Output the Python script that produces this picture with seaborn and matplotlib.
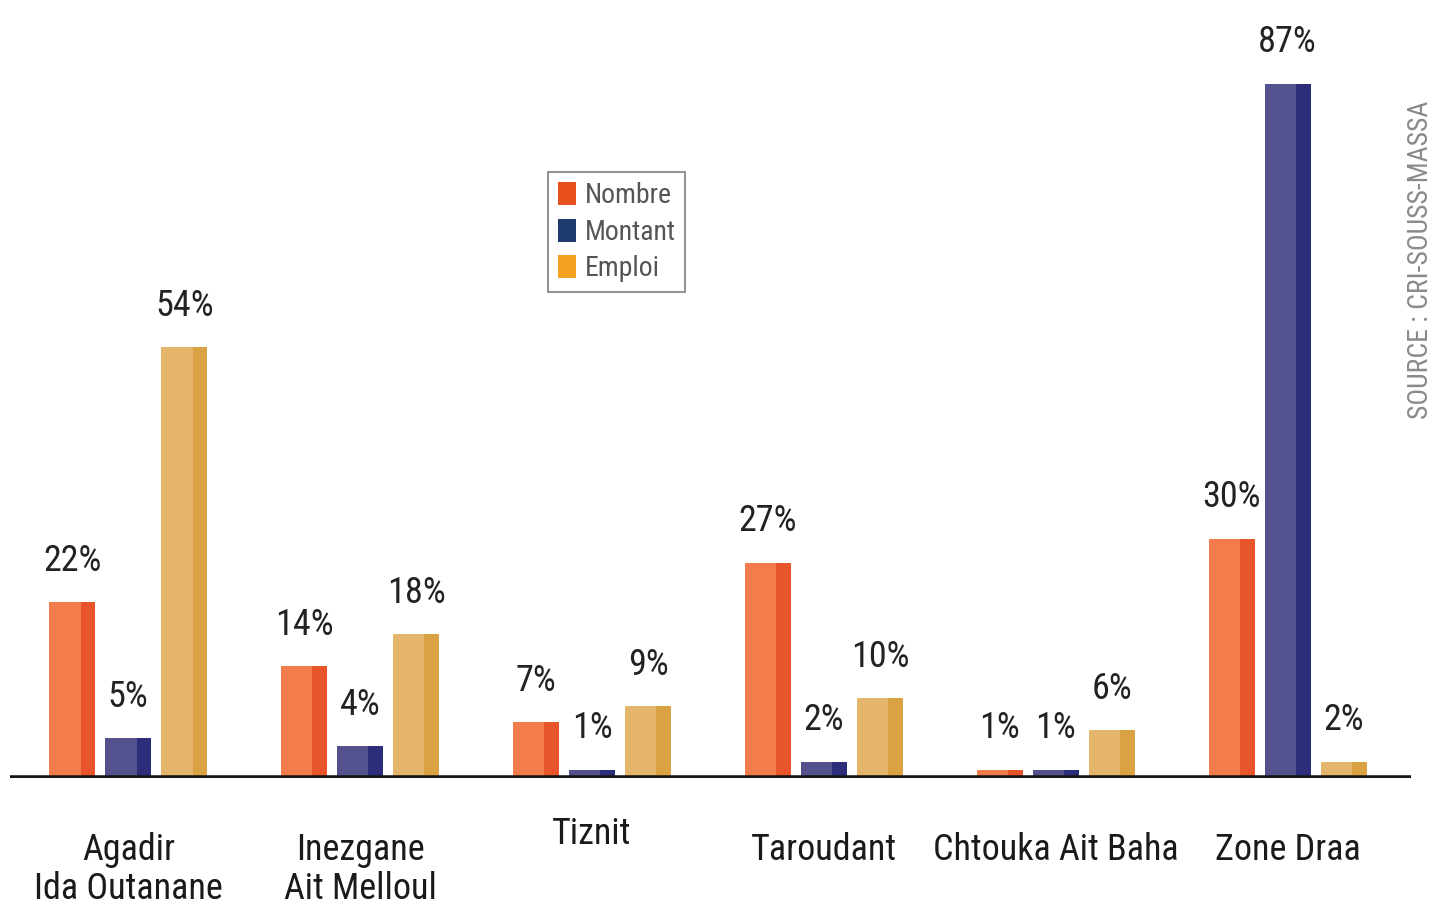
import pandas as pd
import seaborn as sns
import matplotlib.pyplot as plt
from matplotlib import font_manager as fm
from matplotlib.colors import to_hex
from matplotlib.patches import Patch, Rectangle

# data (percent)
regions = ["Agadir\nIda Outanane", "Inezgane\nAit Melloul", "Tiznit",
           "Taroudant", "Chtouka Ait Baha", "Zone Draa"]
series = ["Nombre", "Montant", "Emploi"]
nombre = [22, 14, 7, 27, 1, 30]
montant = [5, 4, 1, 2, 1, 87]
emploi = [54, 18, 9, 10, 6, 2]

front = {"Nombre": "#F27C4C", "Montant": "#53528F", "Emploi": "#E4B56A"}
side = {"Nombre": "#E8552A", "Montant": "#2C2E7C", "Emploi": "#DBA244"}
legend_cols = {"Nombre": "#E8501E", "Montant": "#1F3A6E", "Emploi": "#F2A21E"}

df = pd.DataFrame({"Region": regions, "Nombre": nombre,
                   "Montant": montant, "Emploi": emploi})
scores = df.melt(id_vars="Region", value_vars=series,
                 var_name="Serie", value_name="Pct")

sns.set_style("white")

# narrow font if we can find one
fonts = fm.fontManager.ttflist
names = {f.name for f in fonts}
family = "DejaVu Sans"
for cand in ["Liberation Sans Narrow", "Roboto Condensed", "Open Sans Condensed",
             "Noto Sans Condensed", "Arial Narrow"]:
    if cand in names:
        family = cand
        break
else:
    if any(f.name == "DejaVu Sans" and f.stretch == "condensed" for f in fonts):
        family = "DejaVu Sans"
        plt.rcParams["font.stretch"] = "condensed"
    elif "Roboto" in names:
        family = "Roboto"
plt.rcParams["font.family"] = [family, "DejaVu Sans"]

fig = plt.figure(figsize=(14.32, 9.10), dpi=100)
ax = fig.add_axes([0.007, 0.145, 0.978, 0.855])

sns.barplot(data=scores, x="Region", y="Pct", hue="Serie", hue_order=series,
            palette=front, width=0.725, saturation=1, legend=False, ax=ax)

lookup = {to_hex(v): k for k, v in front.items()}

# shrink bars a bit and add the darker "side" for the 3D look
for bar in ax.patches[:]:
    w = bar.get_width()
    x0 = bar.get_x() + w * 0.09
    nw = w * 0.82
    bar.set_x(x0)
    bar.set_width(nw)
    bar.set_linewidth(0)
    h = bar.get_height()
    name = lookup[to_hex(bar.get_facecolor())]
    ax.add_patch(Rectangle((x0 + nw * 0.68, 0), nw * 0.32, h,
                           facecolor=side[name], linewidth=0, zorder=bar.get_zorder()))
    ax.annotate(f"{h:.0f}%", (x0 + nw / 2, h), xytext=(0, 17),
                textcoords="offset points", ha="center", va="bottom",
                fontsize=26, color="#222222")

ax.set_ylim(0, 97.5)
ax.set_xlim(-0.51, 5.53)
ax.axhline(0, color="#151515", lw=4, zorder=5)
ax.set_xticks([])
ax.set_yticks([])
ax.set_xlabel("")
ax.set_ylabel("")
sns.despine(ax=ax, left=True, bottom=True)

# category labels below the baseline
for i, reg in enumerate(regions):
    off = 27 if reg == "Tiznit" else 39
    ax.annotate(reg, (i, 0), xycoords=("data", "axes fraction"),
                xytext=(0, -off), textcoords="offset points",
                ha="center", va="top", fontsize=26, linespacing=1.1,
                color="#1a1a1a")

handles = [Patch(facecolor=legend_cols[s], edgecolor="none") for s in series]
leg = fig.legend(handles, series, loc="upper left",
                 bbox_to_anchor=(0.383, 0.811), fontsize=20,
                 frameon=True, fancybox=False, handlelength=0.65,
                 handleheight=0.9, handletextpad=0.3, borderpad=0.35,
                 labelspacing=0.35, borderaxespad=0)
leg.get_frame().set_edgecolor("#7a7a7a")
leg.get_frame().set_linewidth(1.5)
for t in leg.get_texts():
    t.set_color("#555555")

fig.text(0.992, 0.714, "SOURCE : CRI-SOUSS-MASSA", rotation=90,
         ha="center", va="center", fontsize=20, color="#8a8a8a")

fig.savefig("out.png", dpi=100)
